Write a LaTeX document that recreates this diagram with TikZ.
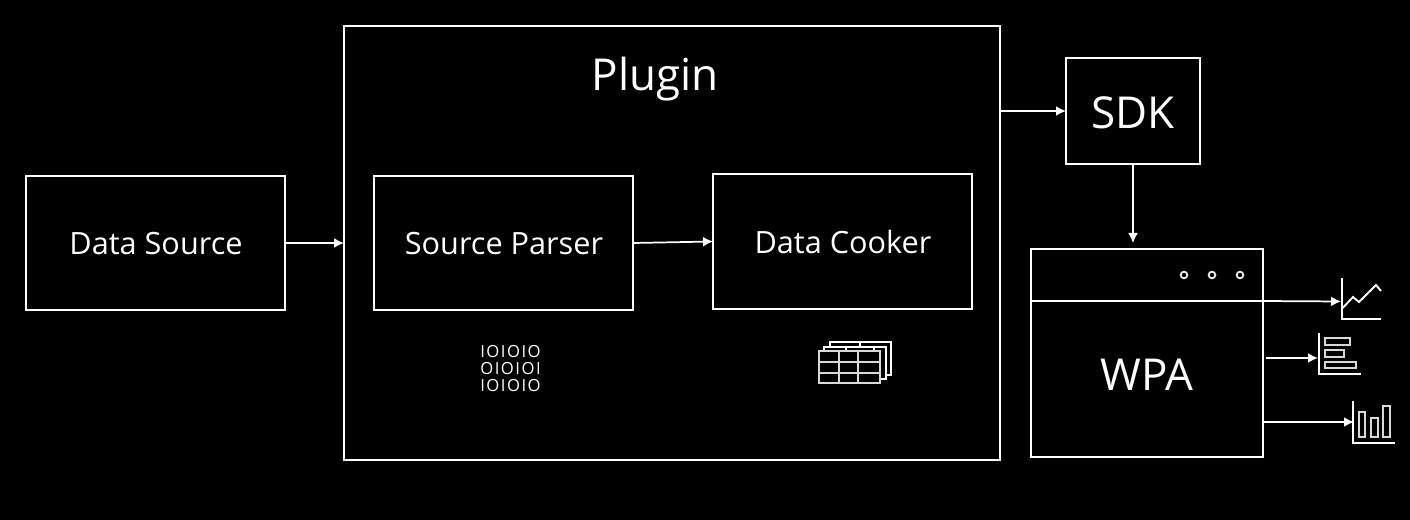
\documentclass[tikz,border=0pt]{standalone}
\usepackage{fontspec}
\setmainfont{Open Sans}
\usetikzlibrary{arrows.meta}
\newcommand\pxbox[6][]{\node[boxnode,#1,minimum width={(#5-#3)*0.75pt},minimum height={(#6-#4)*0.75pt}] (#2) at ({(#3+#5)/2},{(#4+#6)/2}) {};}
\tikzset{
  boxnode/.style={draw=white,line width=1.5pt,inner sep=0pt,outer sep=0pt,rectangle},
  conn/.style={draw=white,line width=1.3pt,-{Latex[length=7.5pt,width=7.5pt]}},
  icon/.style={draw=white,line width=1.4pt},
  iconbar/.style={draw=white!85!black,line width=1.4pt},
  label/.style={text=white,inner sep=0pt,anchor=center,font=\fontsize{23}{28}\selectfont},
  labelbig/.style={text=white,inner sep=0pt,anchor=center,font=\fontsize{33}{38}\selectfont},
  bits/.style={text=white,inner sep=0pt,anchor=center,font=\fontsize{12.5}{12.75}\selectfont\addfontfeatures{LetterSpace=9},align=center},
  dot/.style={draw=white!90!black,line width=1.4pt,circle,minimum size=5pt,inner sep=0pt}
}
\begin{document}
\begin{tikzpicture}[x=0.75pt,y=-0.75pt]
\fill[black] (0,0) rectangle (1410,520);
\useasboundingbox (0,0) rectangle (1410,520);
\pxbox{ds}{26}{176}{285}{310}
\pxbox{plugin}{344}{26}{1000}{460}
\pxbox{sp}{374}{176}{633}{310}
\pxbox{dc}{713}{174}{972}{309}
\pxbox{sdk}{1066}{58}{1200}{164}
\pxbox{wpa}{1031}{249}{1263}{457}
\node[label] (tds) at (156,244) {Data Source};
\node[label] (tsp) at (504,244) {Source Parser};
\node[label] (tdc) at (843,242.5) {Data Cooker};
\node[labelbig] (tpl) at (655,79) {Plugin};
\node[labelbig] (tsdk) at (1133,113) {SDK};
\node[labelbig] (twpa) at (1147,375) {WPA};
\node[bits] (tbits) at (510.5,368.5) {IOIOIO\\OIOIOI\\IOIOIO};
% WPA window details
\draw[icon,line width=1.5pt] (wpa.west |- 0,301) -- (wpa.east |- 0,301);
\node[dot] (d1) at (1184,275) {};
\node[dot] (d2) at (1212,275) {};
\node[dot] (d3) at (1240,275) {};
% connectors
\coordinate (wpatop) at (1133,243);
\coordinate (c1s) at (1263,301);
\coordinate (c1e) at (1341,301.5);
\coordinate (c2s) at (1266,358);
\coordinate (c2e) at (1318,358);
\coordinate (c3s) at (1263,422);
\coordinate (c3e) at (1354,422);
\draw[conn] (ds.east) -- (ds.east -| plugin.west);
\draw[conn] (sp.east) -- (dc.west);
\draw[conn] (sdk.west -| plugin.east) -- (sdk.west);
\draw[conn] (sdk.south) -- (wpatop);
\draw[conn] (c1s) -- (c1e);
\draw[conn] (c2s) -- (c2e);
\draw[conn] (c3s) -- (c3e);
% line chart icon
\draw[icon] (1342,278) -- (1342,319) -- (1381,319);
\draw[icon] (1342.7,308) -- (1353,297) -- (1359,302) -- (1376,285) -- (1381,291);
% horizontal bars icon
\draw[icon] (1319,333) -- (1319,374) -- (1361,374);
\draw[iconbar] (1325,338) rectangle (1350,345);
\draw[iconbar] (1325,350) rectangle (1344,357);
\draw[iconbar] (1325,362) rectangle (1356,368);
% vertical bars icon
\draw[icon] (1353,401) -- (1353,443) -- (1395,443);
\draw[iconbar] (1359,412) rectangle (1365,437);
\draw[iconbar] (1371,418) rectangle (1378,437);
\draw[iconbar] (1383,406) rectangle (1390,437);
% table icon
\draw[icon] (830,347) -- (830,342) -- (891,342) -- (891,375) -- (886,375);
\draw[icon] (860,342) -- (860,347);
\draw[icon] (824,351) -- (824,347) -- (886,347) -- (886,379) -- (880,379);
\draw[icon] (846,347) -- (846,351);
\draw[icon] (874,347) -- (874,351);
\draw[iconbar,line width=1.5pt] (819,351) rectangle (880,383);
\draw[iconbar,line width=1.5pt] (839,351) -- (839,383);
\draw[iconbar,line width=1.5pt] (858,351) -- (858,383);
\draw[iconbar,line width=1.5pt] (819,362) -- (880,362);
\draw[iconbar,line width=1.5pt] (819,373) -- (880,373);
\end{tikzpicture}
\end{document}
